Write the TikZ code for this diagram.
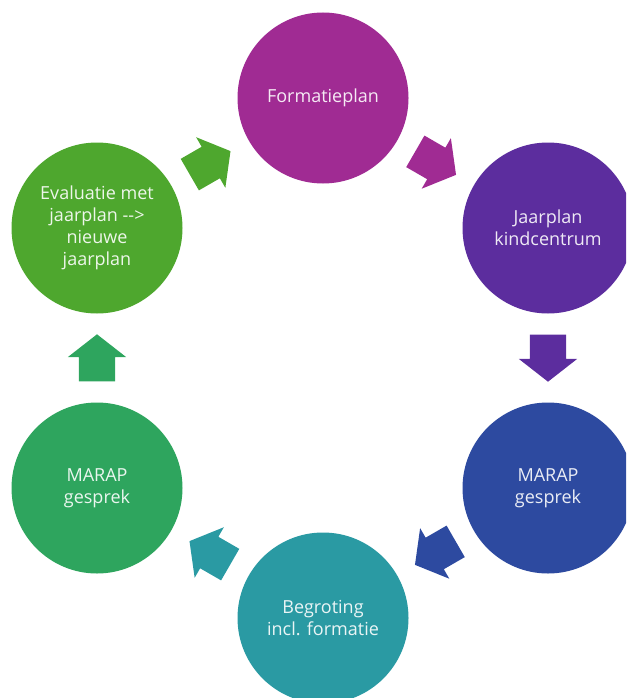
\documentclass[tikz,border=0pt]{standalone}
\usepackage{fontspec}
\setmainfont{Open Sans}
\usetikzlibrary{shapes.arrows,calc}
\definecolor{cFormatie}{HTML}{A02B93}
\definecolor{cJaarplan}{HTML}{5C2D9E}
\definecolor{cMarapR}{HTML}{2D4AA0}
\definecolor{cBegroting}{HTML}{2A9AA3}
\definecolor{cMarapL}{HTML}{2EA55E}
\definecolor{cEvaluatie}{HTML}{4EA72E}
\begin{document}
\begin{tikzpicture}[x=1pt,y=-1pt,
  phase/.style={circle, minimum size=171pt, inner sep=0pt, text=white, text opacity=0.9, align=center, font=\fontsize{18}{22}\selectfont},
  blockarrow/.style={single arrow, anchor=tail, minimum height=47pt, inner xsep=0pt, inner ysep=18pt, single arrow head extend=11pt, single arrow tip angle=104, text width=0pt, text height=0pt, text depth=0pt}]
\useasboundingbox (0,0) rectangle (626,698);
\clip (0,0) rectangle (626,698);
\node[phase, fill=cFormatie] (c1) at (323,98) {Formatieplan};
\node[phase, fill=cJaarplan] (c2) at (548,228) {Jaarplan\\kindcentrum};
\node[phase, fill=cMarapR] (c3) at (548,488) {MARAP\\gesprek};
\node[phase, fill=cBegroting] (c4) at (323,618) {Begroting\\incl. formatie};
\node[phase, fill=cMarapL] (c5) at (97,488) {MARAP\\gesprek};
\node[phase, fill=cEvaluatie] (c6) at (97,228) {Evaluatie met\\jaarplan {-}{-}>\\nieuwe\\jaarplan};
\node[blockarrow, fill=cEvaluatie, rotate=30] (a61) at ($($(c6)!0.5!(c1)$)!23.5pt!(c6)$) {};
\node[blockarrow, fill=cFormatie, rotate=-30] (a12) at ($($(c1)!0.5!(c2)$)!23.5pt!(c1)$) {};
\node[blockarrow, fill=cJaarplan, rotate=-90] (a23) at ($($(c2)!0.5!(c3)$)!23.5pt!(c2)$) {};
\node[blockarrow, fill=cMarapR, rotate=210] (a34) at ($($(c3)!0.5!(c4)$)!23.5pt!(c3)$) {};
\node[blockarrow, fill=cBegroting, rotate=150] (a45) at ($($(c4)!0.5!(c5)$)!23.5pt!(c4)$) {};
\node[blockarrow, fill=cMarapL, rotate=90] (a56) at ($($(c5)!0.5!(c6)$)!23.5pt!(c5)$) {};
\end{tikzpicture}
\end{document}
